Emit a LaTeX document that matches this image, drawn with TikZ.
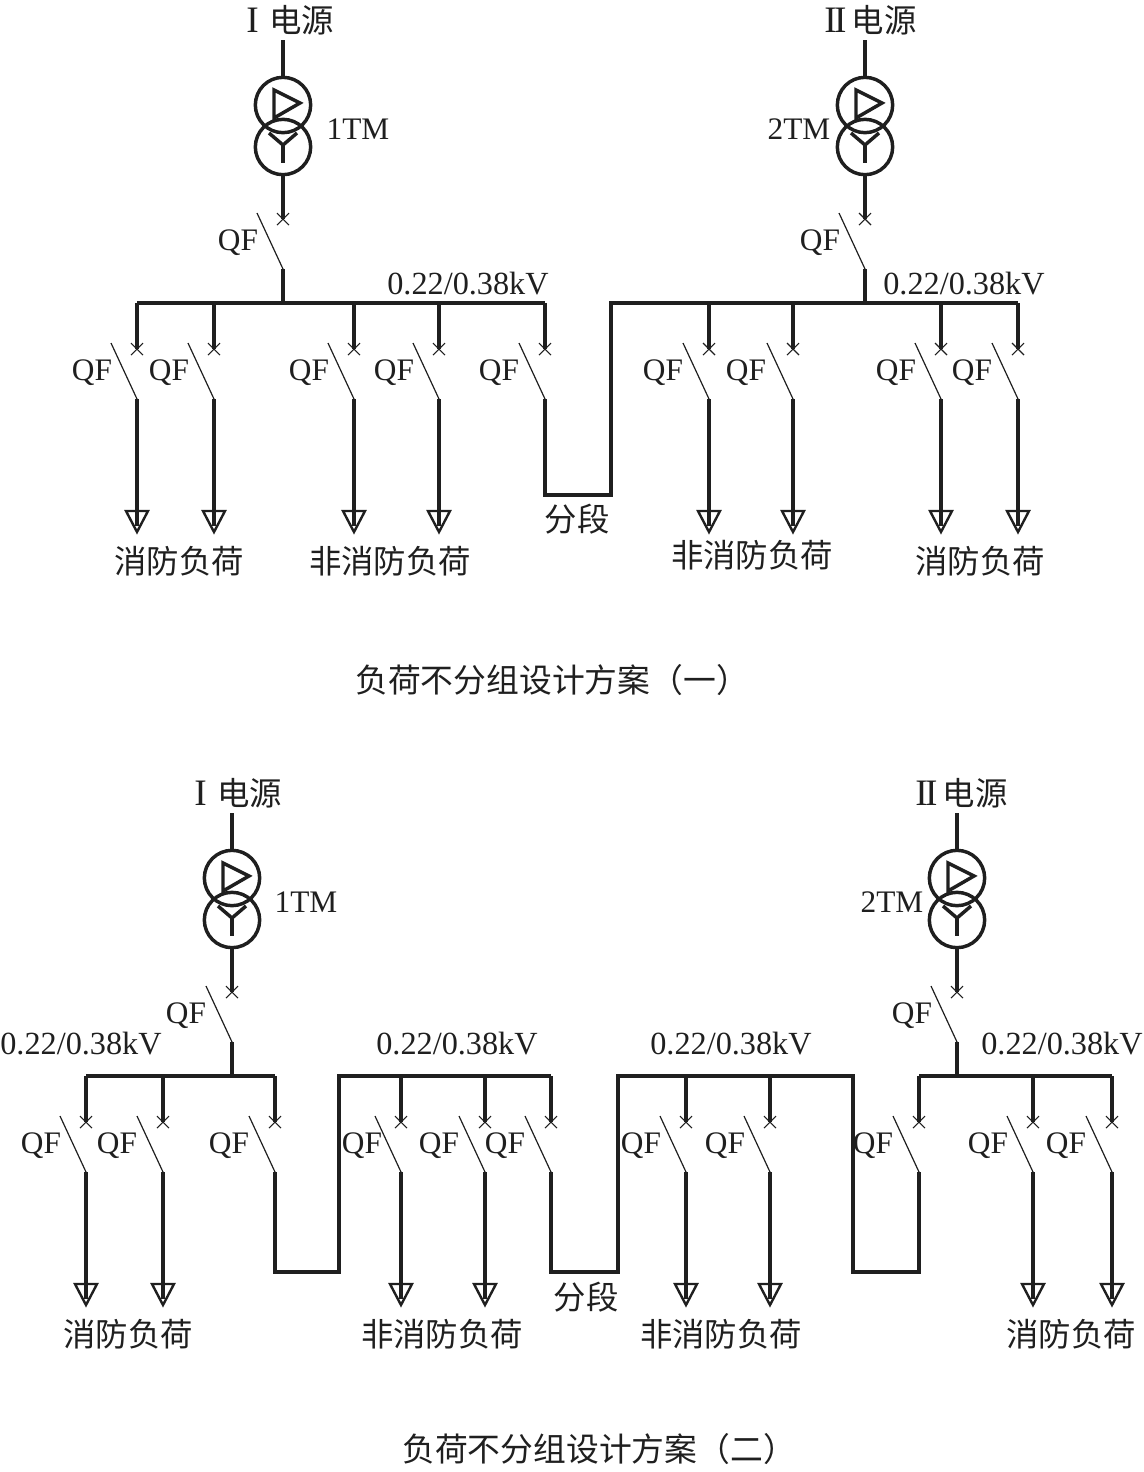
\documentclass[tikz,border=0pt]{standalone}
\usepackage{fontspec}
\setmainfont{Liberation Serif}
\newfontfamily\cjk{Noto Sans CJK SC}[Scale=1.0]
\tikzset{
  wire/.style={line width=2.6pt,draw=black!88,line cap=butt,line join=miter},
  blade/.style={line width=0.9pt,draw=black!88},
  tick/.style={line width=0.8pt,draw=black!88},
  coil/.style={line width=2.6pt,draw=black!88,circle,minimum size=41.5pt,inner sep=0pt},
  sym/.style={line width=2.6pt,draw=black!88,line join=miter},
  loadtip/.style={line width=1.8pt,draw=black!88,line join=miter},
  lab/.style={font=\fontsize{23.5pt}{26pt}\selectfont,text=black!88,inner sep=0pt},
  volt/.style={font=\fontsize{24.2pt}{26pt}\selectfont,text=black!88,inner sep=0pt},
  src/.style={font=\fontsize{28pt}{30pt}\selectfont,text=black!88,inner sep=0pt},
  zh/.style={font=\fontsize{24.3pt}{26pt}\selectfont\cjk,text=black!88,inner sep=0pt},
  zhcap/.style={font=\fontsize{24.6pt}{26pt}\selectfont\cjk,text=black!88,inner sep=0pt},
}
% breaker #1 name, #2 x, #3 bus y, #4 mark y, #5 lower end y of blade, #6 QF label x
\newcommand{\brk}[6]{
  \coordinate (#1bus) at (#2,#3);
  \coordinate (#1mark) at (#2,#4);
  \coordinate (#1low) at (#2,#5);
  \coordinate (#1tip) at (#2-26,#4-6);
  \coordinate (#1a) at (#2-6,#4-6);
  \coordinate (#1b) at (#2+6,#4+6);
  \coordinate (#1c) at (#2+6,#4-6);
  \coordinate (#1d) at (#2-6,#4+6);
  \draw[wire] (#1bus) -- (#1mark);
  \draw[tick] (#1a) -- (#1b);
  \draw[tick] (#1c) -- (#1d);
  \draw[blade] (#1tip) -- (#1low);
  \node[lab] (#1qf) at (#6,#4+24) {QF};
}
% load branch: #1 name, #2 x, #3 bus y, #4 mark y, #5 QF x
\newcommand{\feeder}[5]{
  \brk{#1}{#2}{#3}{#4}{#4+50}{#5}
  \coordinate (#1tl) at (#2-11,#4+162);
  \coordinate (#1tr) at (#2+11,#4+162);
  \coordinate (#1tb) at (#2,#4+183);
  \draw[wire] (#1low) -- (#2,#4+177);
  \draw[loadtip] (#1tl) -- (#1tr) -- (#1tb) -- cycle;
}
% transformer: #1 name, #2 x, #3 top circle y, #4 label x, #5 label
\newcommand{\xfmr}[5]{
  \node[coil] (#1p) at (#2,#3) {};
  \node[coil] (#1s) at (#2,#3+42) {};
  \coordinate (#1in) at (#2,#3-65);
  \draw[wire] (#1in) -- (#1p);
  \draw[sym] (#2-9,#3-15) -- (#2-9,#3+13) -- (#2+17,#3-2) -- cycle;
  \draw[sym] (#2-14,#3+28) -- (#2,#3+40) -- (#2+14,#3+28);
  \draw[sym] (#2,#3+40) -- (#2,#3+58);
  \node[lab] (#1lab) at (#4,#3+24) {#5};
}
\begin{document}
\begin{tikzpicture}[x=0.75pt,y=-0.75pt]
\useasboundingbox (0,0) rectangle (1144,1472);
% ---------- scheme 1
\xfmr{ta}{283}{105}{358}{1TM}
\xfmr{tb}{865}{105}{799}{2TM}
\node[src] (sa) at (246,20) [anchor=west] {I\hspace{8pt}{\fontsize{24.3pt}{26pt}\selectfont\cjk 电源}};
\node[src] (sb) at (824,20) [anchor=west] {I\kern-2pt I\hspace{4pt}{\fontsize{24.3pt}{26pt}\selectfont\cjk 电源}};
\brk{ma}{283}{175}{219}{269}{238}
\draw[wire] (tas) -- (mabus);
\coordinate (batap) at (283,303);
\draw[wire] (malow) -- (batap);
\brk{mb}{865}{175}{219}{269}{820}
\draw[wire] (tbs) -- (mbbus);
\coordinate (bbtap) at (865,303);
\draw[wire] (mblow) -- (bbtap);
\feeder{f1}{137}{303}{349}{92}
\feeder{f2}{214}{303}{349}{169}
\feeder{f3}{354}{303}{349}{309}
\feeder{f4}{439}{303}{349}{394}
\brk{f5}{545}{303}{349}{399}{499}
\feeder{f6}{709}{303}{349}{663}
\feeder{f7}{793}{303}{349}{746}
\feeder{f8}{941}{303}{349}{896}
\feeder{f9}{1018}{303}{349}{972}
\coordinate (s1a) at (545,495);
\coordinate (s1b) at (611,495);
\coordinate (s1c) at (611,303);
\draw[wire] (f1bus) -- (f5bus);
\draw[wire] (f5low) -- (s1a) -- (s1b) -- (s1c) -- (f9bus);
\node[volt] (v1) at (468,284) {0.22/0.38kV};
\node[volt] (v2) at (964,284) {0.22/0.38kV};
\node[zh] (fd1) at (577,519) {分段};
\node[zh] (l1) at (179,561) {消防负荷};
\node[zh] (l2) at (390,561) {非消防负荷};
\node[zh] (l3) at (752,555) {非消防负荷};
\node[zh] (l4) at (980,561) {消防负荷};
\node[zhcap] (c1) at (552,680) {负荷不分组设计方案（一）};
% ---------- scheme 2
\xfmr{tc}{232}{878}{306}{1TM}
\xfmr{td}{957}{878}{892}{2TM}
\node[src] (sc) at (194,793) [anchor=west] {I\hspace{8pt}{\fontsize{24.3pt}{26pt}\selectfont\cjk 电源}};
\node[src] (sd) at (915,793) [anchor=west] {I\kern-2pt I\hspace{4pt}{\fontsize{24.3pt}{26pt}\selectfont\cjk 电源}};
\brk{mc}{232}{948}{992}{1042}{186}
\draw[wire] (tcs) -- (mcbus);
\coordinate (bctap) at (232,1076);
\draw[wire] (mclow) -- (bctap);
\brk{md}{957}{948}{992}{1042}{912}
\draw[wire] (tds) -- (mdbus);
\coordinate (bdtap) at (957,1076);
\draw[wire] (mdlow) -- (bdtap);
\feeder{g1}{86}{1076}{1122}{41}
\feeder{g2}{163}{1076}{1122}{117}
\brk{g3}{275}{1076}{1122}{1172}{229}
\feeder{g4}{401}{1076}{1122}{362}
\feeder{g5}{485}{1076}{1122}{439}
\brk{g6}{551}{1076}{1122}{1172}{505}
\feeder{g7}{686}{1076}{1122}{641}
\feeder{g8}{770}{1076}{1122}{725}
\brk{g9}{919}{1076}{1122}{1172}{873}
\feeder{g10}{1033}{1076}{1122}{988}
\feeder{g11}{1112}{1076}{1122}{1066}
\coordinate (u1a) at (275,1272);
\coordinate (u1b) at (339,1272);
\coordinate (u1c) at (339,1076);
\coordinate (u2a) at (551,1272);
\coordinate (u2b) at (618,1272);
\coordinate (u2c) at (618,1076);
\coordinate (u3d) at (853,1076);
\coordinate (u3a) at (853,1272);
\coordinate (u3b) at (919,1272);
\draw[wire] (g1bus) -- (g3bus);
\draw[wire] (g3low) -- (u1a) -- (u1b) -- (u1c) -- (g6bus);
\draw[wire] (g6low) -- (u2a) -- (u2b) -- (u2c) -- (u3d) -- (u3a) -- (u3b) -- (g9low);
\draw[wire] (g9bus) -- (g11bus);
\node[volt] (v3) at (81,1044) {0.22/0.38kV};
\node[volt] (v4) at (457,1044) {0.22/0.38kV};
\node[volt] (v5) at (731,1044) {0.22/0.38kV};
\node[volt] (v6) at (1062,1044) {0.22/0.38kV};
\node[zh] (fd2) at (586,1297) {分段};
\node[zh] (l5) at (128,1334) {消防负荷};
\node[zh] (l6) at (442,1334) {非消防负荷};
\node[zh] (l7) at (721,1334) {非消防负荷};
\node[zh] (l8) at (1071,1334) {消防负荷};
\node[zhcap] (c2) at (599,1449) {负荷不分组设计方案（二）};
\end{tikzpicture}
\end{document}
